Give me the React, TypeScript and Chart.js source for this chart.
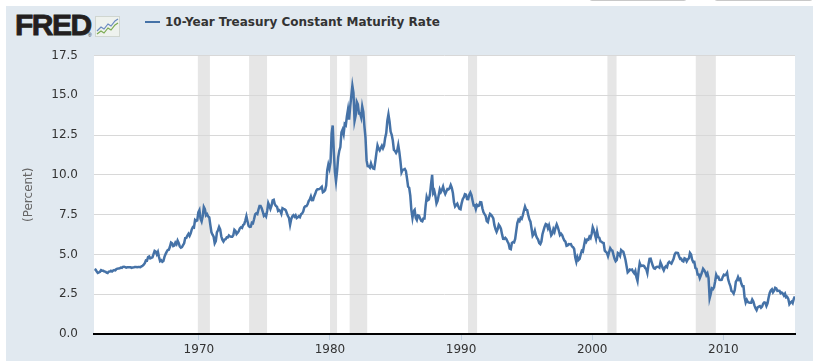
import React, { useEffect, useRef } from "react";
import { Chart, registerables } from "chart.js";

Chart.register(...registerables);

// Monthly 10-year Treasury constant maturity rate (%), Jan 1962 .. Jun 2015
const FIRST_YEAR = 1962;
const rates1960s = [
  4.08, 4.04, 3.93, 3.84, 3.87, 3.91, 4.01, 3.98, 3.98, 3.93, 3.92, 3.86,
  3.83, 3.92, 3.93, 3.97, 3.93, 3.99, 4.02, 4.0, 4.08, 4.11, 4.12, 4.13,
  4.17, 4.15, 4.22, 4.23, 4.2, 4.17, 4.19, 4.19, 4.2, 4.19, 4.15, 4.18,
  4.19, 4.21, 4.21, 4.2, 4.21, 4.21, 4.2, 4.25, 4.29, 4.35, 4.45, 4.62,
  4.61, 4.83, 4.87, 4.75, 4.78, 4.81, 5.02, 5.22, 5.18, 5.01, 5.16, 4.84,
  4.58, 4.63, 4.54, 4.59, 4.85, 5.02, 5.16, 5.28, 5.3, 5.48, 5.75, 5.7,
  5.53, 5.56, 5.74, 5.64, 5.87, 5.72, 5.5, 5.42, 5.46, 5.58, 5.7, 6.03,
  6.04, 6.19, 6.3, 6.17, 6.32, 6.57, 6.72, 6.69, 7.16, 7.1, 7.14, 7.65,
];
const rates1970s = [
  7.79, 7.24, 7.07, 7.39, 7.98, 7.84, 7.46, 7.53, 7.39, 7.33, 6.84, 6.39,
  6.24, 6.11, 5.7, 5.83, 6.39, 6.52, 6.73, 6.58, 6.14, 5.93, 5.81, 5.93,
  5.95, 6.08, 6.07, 6.19, 6.13, 6.11, 6.11, 6.21, 6.55, 6.48, 6.28, 6.36,
  6.46, 6.64, 6.71, 6.67, 6.85, 6.9, 7.13, 7.4, 7.09, 6.79, 6.73, 6.74,
  6.99, 6.96, 7.21, 7.51, 7.58, 7.54, 7.81, 8.04, 8.04, 7.9, 7.68, 7.43,
  7.5, 7.39, 7.73, 8.23, 8.06, 7.86, 8.06, 8.4, 8.43, 8.15, 8.05, 8.0,
  7.74, 7.79, 7.73, 7.56, 7.9, 7.86, 7.83, 7.77, 7.59, 7.41, 7.29, 6.87,
  7.21, 7.39, 7.46, 7.37, 7.46, 7.28, 7.33, 7.4, 7.34, 7.52, 7.58, 7.69,
  7.96, 8.03, 8.04, 8.15, 8.35, 8.46, 8.64, 8.41, 8.42, 8.64, 8.81, 9.01,
  9.1, 9.1, 9.12, 9.18, 9.25, 8.91, 8.95, 9.03, 9.33, 10.3, 10.65, 10.39,
];
const rates1980s = [
  10.8, 12.6, 13.1, 11.47, 10.18, 9.6, 10.25, 11.1, 11.51, 11.75, 12.68, 12.84,
  12.57, 13.19, 13.12, 13.68, 14.1, 13.47, 14.28, 14.94, 15.6, 15.15, 13.39, 13.72,
  14.59, 14.43, 13.86, 13.87, 13.62, 14.3, 13.95, 13.06, 12.34, 10.91, 10.55, 10.54,
  10.46, 10.72, 10.51, 10.4, 10.38, 10.85, 11.38, 11.85, 11.65, 11.54, 11.69, 11.83,
  11.67, 11.84, 12.32, 12.63, 13.41, 13.8, 13.36, 12.72, 12.52, 12.16, 11.57, 11.5,
  11.38, 11.51, 11.86, 11.43, 10.85, 10.16, 10.31, 10.33, 10.37, 10.24, 9.78, 9.26,
  9.19, 8.7, 7.78, 7.3, 7.71, 7.8, 7.3, 7.17, 7.45, 7.43, 7.25, 7.11,
  7.08, 7.25, 7.25, 8.02, 8.61, 8.4, 8.45, 8.76, 9.42, 10.0, 8.86, 8.99,
  8.67, 8.21, 8.37, 8.72, 9.09, 8.92, 9.06, 9.26, 8.98, 8.8, 8.96, 9.11,
  9.09, 9.17, 9.36, 9.18, 8.86, 8.28, 8.02, 8.11, 8.19, 8.01, 7.87, 7.84,
];
const rates1990s = [
  8.21, 8.47, 8.59, 8.79, 8.76, 8.48, 8.47, 8.75, 8.89, 8.72, 8.39, 8.08,
  8.09, 7.85, 8.11, 8.04, 8.07, 8.28, 8.27, 7.9, 7.65, 7.53, 7.42, 7.09,
  7.03, 7.34, 7.54, 7.48, 7.39, 7.26, 6.84, 6.59, 6.42, 6.59, 6.87, 6.77,
  6.6, 6.26, 5.98, 5.97, 6.04, 5.96, 5.81, 5.68, 5.36, 5.33, 5.72, 5.77,
  5.75, 5.97, 6.48, 6.97, 7.18, 7.1, 7.3, 7.24, 7.46, 7.74, 8.0, 7.81,
  7.78, 7.47, 7.2, 7.06, 6.63, 6.17, 6.28, 6.49, 6.2, 6.04, 5.93, 5.71,
  5.65, 5.81, 6.27, 6.51, 6.74, 6.91, 6.87, 6.64, 6.83, 6.53, 6.2, 6.3,
  6.58, 6.42, 6.69, 6.89, 6.71, 6.49, 6.22, 6.3, 6.21, 6.03, 5.88, 5.81,
  5.54, 5.57, 5.65, 5.64, 5.65, 5.5, 5.46, 5.34, 4.81, 4.53, 4.83, 4.65,
  4.72, 5.0, 5.23, 5.18, 5.54, 5.9, 5.79, 5.94, 5.92, 6.11, 6.03, 6.28,
];
const rates2000s = [
  6.7, 6.52, 6.26, 5.99, 6.44, 6.1, 6.05, 5.83, 5.8, 5.74, 5.72, 5.24,
  5.16, 5.1, 4.89, 5.14, 5.39, 5.28, 5.24, 4.97, 4.73, 4.57, 4.65, 5.09,
  5.04, 4.91, 5.28, 5.21, 5.16, 4.93, 4.65, 4.26, 3.87, 3.94, 4.05, 4.03,
  4.05, 3.9, 3.81, 3.96, 3.57, 3.33, 3.98, 4.45, 4.27, 4.29, 4.3, 4.27,
  4.15, 4.08, 3.83, 4.35, 4.72, 4.73, 4.5, 4.28, 4.13, 4.1, 4.19, 4.23,
  4.22, 4.17, 4.5, 4.34, 4.14, 4.0, 4.18, 4.26, 4.2, 4.46, 4.54, 4.47,
  4.42, 4.57, 4.72, 4.99, 5.11, 5.11, 5.09, 4.88, 4.72, 4.73, 4.6, 4.56,
  4.76, 4.72, 4.56, 4.69, 4.75, 5.1, 5.0, 4.67, 4.52, 4.53, 4.15, 4.1,
  3.74, 3.74, 3.51, 3.68, 3.88, 4.1, 4.01, 3.89, 3.69, 3.81, 3.53, 2.25,
  2.52, 2.87, 2.82, 2.93, 3.29, 3.72, 3.56, 3.59, 3.4, 3.39, 3.4, 3.59,
];
const rates2010s = [
  3.73, 3.69, 3.73, 3.85, 3.42, 3.2, 3.01, 2.7, 2.65, 2.54, 2.76, 3.29,
  3.39, 3.58, 3.41, 3.46, 3.17, 3.0, 3.0, 2.3, 1.98, 2.15, 2.01, 1.98,
  1.97, 1.97, 2.17, 2.05, 1.8, 1.62, 1.5, 1.68, 1.72, 1.75, 1.65, 1.72,
  1.91, 1.98, 1.96, 1.76, 1.93, 2.3, 2.58, 2.74, 2.81, 2.62, 2.72, 2.9,
  2.86, 2.71, 2.72, 2.71, 2.56, 2.6, 2.54, 2.42, 2.53, 2.3, 2.33, 2.21,
  1.88, 1.98, 2.04, 1.94, 2.2, 2.36,
];

// Recession periods (decimal years)
const recessionStarts = [1969.92, 1973.83, 1980.0, 1981.5, 1990.53, 2001.16, 2007.9];
const recessionEnds = [1970.84, 1975.2, 1980.54, 1982.84, 1991.22, 2001.86, 2009.43];

const xTickYears = [1970, 1980, 1990, 2000, 2010];
const xMin = 1962.0;
const xMax = 2015.47;
const yTicks = [0, 2.5, 5, 7.5, 10, 12.5, 15, 17.5];

const seriesLabel = "10-Year Treasury Constant Maturity Rate";
const LINE_COLOR = "#4572a7";
const FONT = "'DejaVu Sans', Verdana, sans-serif";

export default function App() {
  const canvasRef = useRef<HTMLCanvasElement | null>(null);

  useEffect(() => {
    const canvas = canvasRef.current;
    if (!canvas) return;
    const all = [...rates1960s, ...rates1970s, ...rates1980s, ...rates1990s, ...rates2000s, ...rates2010s];
    const points = all.map((v, i) => ({ x: FIRST_YEAR + i / 12 + 1 / 24, y: v }));

    const bgPlugin = {
      id: "bgAndRecessions",
      beforeDraw(chart: any) {
        const { ctx, chartArea, scales } = chart;
        ctx.save();
        ctx.fillStyle = "#ffffff";
        ctx.fillRect(chartArea.left, chartArea.top, chartArea.right - chartArea.left, chartArea.bottom - chartArea.top);
        ctx.fillStyle = "#e6e6e6";
        recessionStarts.forEach((s, i) => {
          const x1 = scales.x.getPixelForValue(s);
          const x2 = scales.x.getPixelForValue(recessionEnds[i]);
          ctx.fillRect(x1, chartArea.top, x2 - x1, chartArea.bottom - chartArea.top);
        });
        ctx.restore();
      },
    };

    const chart = new Chart(canvas, {
      type: "line",
      data: {
        datasets: [
          {
            label: seriesLabel,
            data: points,
            borderColor: LINE_COLOR,
            borderWidth: 2.5,
            pointRadius: 0,
            tension: 0,
            fill: false,
          },
        ],
      },
      options: {
        responsive: false,
        animation: false,
        devicePixelRatio: 1,
        layout: { padding: { top: 15.5, right: 18, left: 0, bottom: 0 } },
        plugins: { legend: { display: false }, tooltip: { enabled: false } },
        scales: {
          x: {
            type: "linear",
            min: xMin,
            max: xMax,
            afterBuildTicks: (s: any) => {
              s.ticks = xTickYears.map((v) => ({ value: v }));
            },
            afterFit: (s: any) => {
              s.height = 27;
            },
            ticks: {
              autoSkip: false,
              maxRotation: 0,
              padding: 3,
              color: "#333333",
              font: { family: FONT, size: 12 },
              callback: (v: any) => String(v),
            },
            grid: { drawOnChartArea: false, drawTicks: true, tickLength: 6, color: "#c0d0e0" },
            border: { color: "#000000", width: 2 },
          },
          y: {
            min: 0,
            max: 17.5,
            afterBuildTicks: (s: any) => {
              s.ticks = yTicks.map((v) => ({ value: v }));
            },
            afterFit: (s: any) => {
              s.width = 88;
              s.paddingTop = 7;
              s.paddingBottom = 7;
            },
            ticks: {
              padding: 16,
              color: "#333333",
              font: { family: FONT, size: 12 },
              callback: (v: any) => Number(v).toFixed(1),
            },
            grid: { color: "#d8d8d8", drawTicks: false, lineWidth: 1 },
            border: { display: false },
            title: {
              display: true,
              text: "(Percent)",
              color: "#666666",
              font: { family: FONT, size: 12 },
              padding: { top: 16, bottom: 0 },
            },
          },
        },
      },
      plugins: [bgPlugin],
    } as any);

    return () => chart.destroy();
  }, []);

  return (
    <div style={{ position: "fixed", left: 0, top: 0, width: 818, height: 361, background: "#ffffff", overflow: "hidden" }}>
      <div style={{ position: "absolute", left: 589, top: -20, width: 98, height: 21, border: "1px solid #c8c8c8", borderRadius: 3, boxSizing: "border-box" }} />
      <div style={{ position: "absolute", left: 714, top: -20, width: 99, height: 21, border: "1px solid #c8c8c8", borderRadius: 3, boxSizing: "border-box" }} />
      <div style={{ position: "absolute", left: 6, top: 6, width: 807, height: 355, background: "#e1e9f0" }} />
      <div
        style={{
          position: "absolute",
          left: 15,
          top: 8,
          fontFamily: "'Liberation Sans', Arial, sans-serif",
          fontWeight: 900,
          fontSize: 30,
          letterSpacing: -1.5,
          color: "#231f20",
          WebkitTextStroke: "0.8px #231f20",
          lineHeight: "34px",
        }}
      >
        FRED
      </div>
      <div style={{ position: "absolute", left: 88, top: 32, fontSize: 5, fontFamily: "Arial, sans-serif", color: "#231f20" }}>®</div>
      <svg style={{ position: "absolute", left: 95, top: 16 }} width={25} height={21} viewBox="0 0 25 21">
        <rect x={0.5} y={0.5} width={24} height={20} fill="#eef2ee" stroke="#d0d6d0" />
        <polyline points="2,15 6,11 9,13 13,8 16,10 20,5 23,3" fill="none" stroke="#6a8ac0" strokeWidth={1.2} />
        <polyline points="2,18 6,15 9,17 13,12 16,14 20,9 23,7" fill="none" stroke="#7aaa50" strokeWidth={1.2} />
      </svg>
      <div style={{ position: "absolute", left: 145, top: 21, width: 15, height: 2, background: LINE_COLOR }} />
      <div
        style={{
          position: "absolute",
          left: 165,
          top: 14,
          fontFamily: FONT,
          fontWeight: "bold",
          fontSize: 12,
          color: "#333333",
          whiteSpace: "nowrap",
          lineHeight: "16px",
        }}
      >
        {seriesLabel}
      </div>
      <canvas ref={canvasRef} width={807} height={321} style={{ position: "absolute", left: 6, top: 40, width: 807, height: 321 }} />
    </div>
  );
}
